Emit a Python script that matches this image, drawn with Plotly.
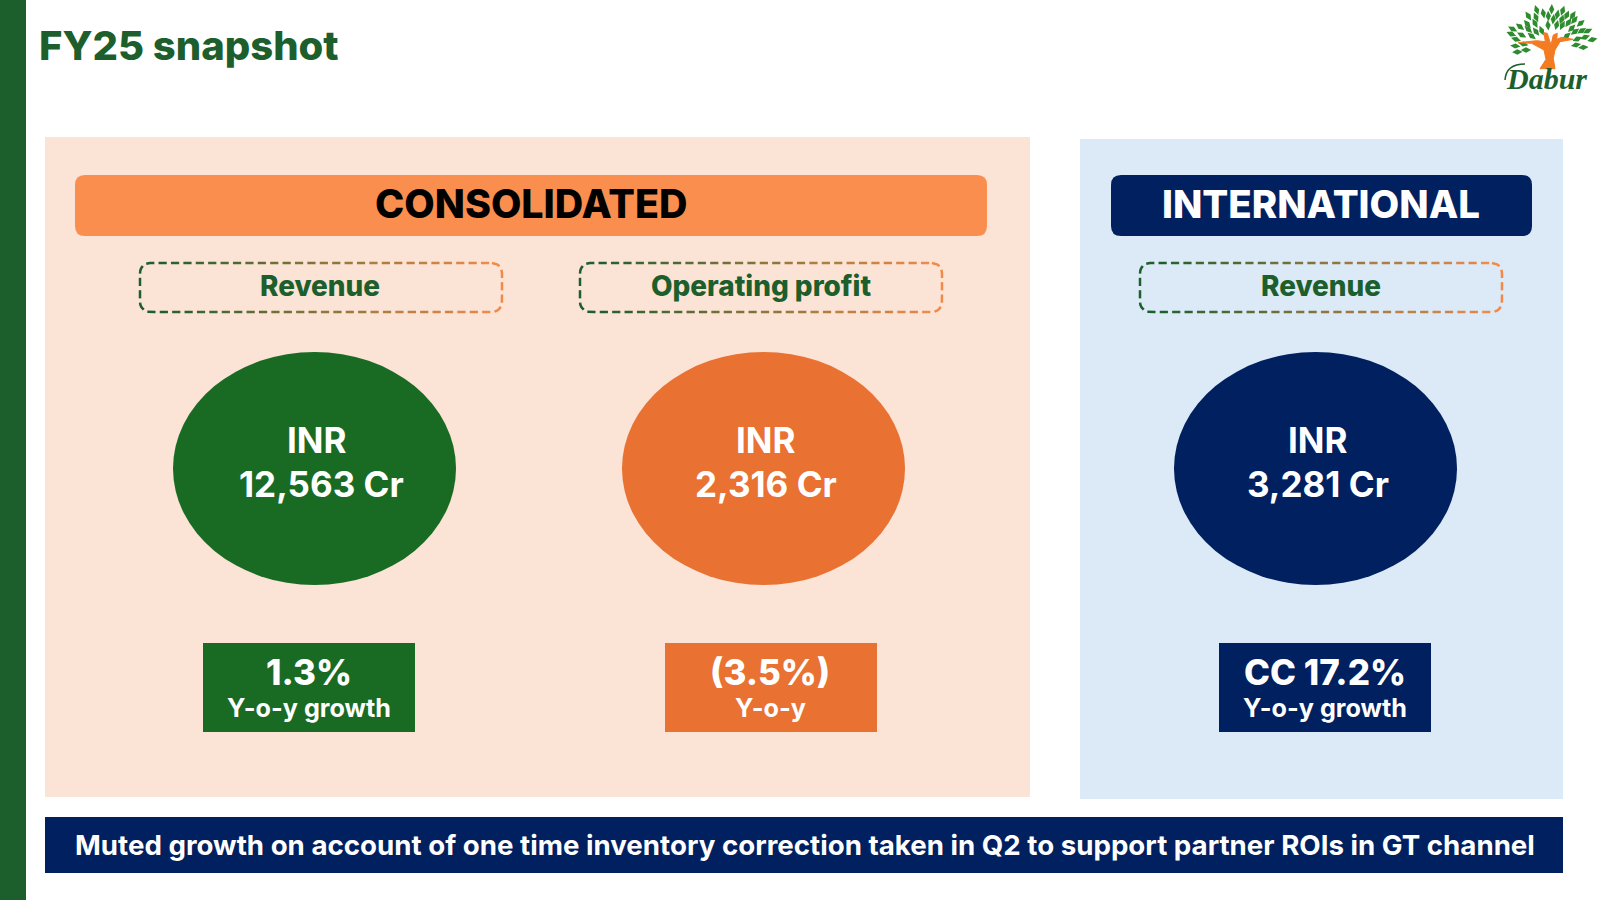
import math
import plotly.graph_objects as go

TITLE = "FY25 snapshot"
HEADERS = ["CONSOLIDATED", "INTERNATIONAL"]
METRICS = ["Revenue", "Operating profit", "Revenue"]
AMOUNTS_CR = ["12,563", "2,316", "3,281"]
CHANGES = ["1.3%", "(3.5%)", "CC 17.2%"]
CHANGE_LABELS = ["Y-o-y growth", "Y-o-y", "Y-o-y growth"]
FOOTER = "Muted growth on account of one time inventory correction taken in Q2 to support partner ROIs in GT channel"

GREEN = "#196B24"; DARK = "#1C5F2C"; ORANGE = "#E97132"; NAVY = "#00205F"
FONT = "Inter"

shapes = []; ann = []; traces = []

def rect(x0, y0, x1, y1, c):
    shapes.append(dict(type="rect", x0=x0, y0=y0, x1=x1, y1=y1, fillcolor=c, line_width=0, layer="below"))

def rr_path(x0, y0, x1, y1, r):
    return (f"M{x0+r},{y0} L{x1-r},{y0} Q{x1},{y0} {x1},{y0+r} L{x1},{y1-r} Q{x1},{y1} {x1-r},{y1} "
            f"L{x0+r},{y1} Q{x0},{y1} {x0},{y1-r} L{x0},{y0+r} Q{x0},{y0} {x0+r},{y0} Z")

def rrect(x0, y0, x1, y1, r, c):
    shapes.append(dict(type="path", path=rr_path(x0, y0, x1, y1, r), fillcolor=c, line_width=0, layer="below"))

def text(x, y, s, size, color, weight=700, anchor="center", family=FONT, style="normal"):
    ann.append(dict(x=x, y=y, text=s, showarrow=False, xanchor=anchor, yanchor="middle",
                    font=dict(family=family, size=size, color=color, weight=weight, style=style), xref="x", yref="y"))

rect(0, 0, 26, 900, DARK)
rect(45, 137, 1030, 797, "#FBE3D6")
rect(1080, 139, 1563, 799, "#DCEAF7")
rect(45, 817, 1563, 873, NAVY)
text(37, 45, TITLE, 40, DARK, weight=800, anchor="left")

rrect(75, 175, 987, 236, 10, "#F98E4E")
rrect(1111, 175, 1532, 236, 10, NAVY)
text(531, 204, HEADERS[0], 39.4, "#000000", weight=800)
text(1321, 204, HEADERS[1], 38.4, "#FFFFFF", weight=800)

BUCKETS = 14
def lerp(t):
    a = (0x1C, 0x5F, 0x2C); b = (0xF0, 0x8A, 0x4A)
    return "rgb(%d,%d,%d)" % tuple(round(a[i] + (b[i]-a[i])*t) for i in range(3))
buckets = [([], []) for _ in range(BUCKETS)]
def emit(seg, x0, x1):
    mx = sum(p[0] for p in seg)/len(seg)
    b = min(BUCKETS-1, int((mx-x0)/(x1-x0)*BUCKETS))
    for p in seg:
        buckets[b][0].append(p[0]); buckets[b][1].append(p[1])
    buckets[b][0].append(None); buckets[b][1].append(None)
def outline(x0, y0, x1, y1, r=10, dash=8.2, gap=4.2):
    pts = []
    n = 6
    def arc(cx, cy, a0):
        for k in range(n+1):
            a = math.radians(a0 + 90*k/n)
            pts.append((cx + r*math.cos(a), cy + r*math.sin(a)))
    arc(x1-r, y0+r, -90); arc(x1-r, y1-r, 0); arc(x0+r, y1-r, 90); arc(x0+r, y0+r, 180)
    pts.append(pts[0])
    on = True; remain = dash; cur = [pts[0]]
    for i in range(len(pts)-1):
        ax, ay = pts[i]; bx, by = pts[i+1]
        L = math.hypot(bx-ax, by-ay); d = 0.0
        while L - d > remain:
            d += remain
            p = (ax+(bx-ax)*d/L, ay+(by-ay)*d/L)
            if on:
                cur.append(p); emit(cur, x0, x1)
            cur = [p]; on = not on
            remain = gap if not on else dash
        remain -= (L-d)
        if on: cur.append((bx, by))
    if on: emit(cur, x0, x1)

LEFT = [140, 580, 1140]
for x0 in LEFT:
    outline(x0, 263, x0+362, 312)
for i, (xs, ys) in enumerate(buckets):
    traces.append(go.Scatter(x=xs, y=ys, mode="lines", line=dict(color=lerp(i/(BUCKETS-1)), width=2.5),
                             hoverinfo="skip", showlegend=False))

for cx, s in zip([320, 761, 1321], METRICS):
    text(cx, 286, s, 27.9, DARK, weight=800)

for x0, c, a, cx1, cx2, in zip([173, 622, 1174], [GREEN, ORANGE, NAVY], AMOUNTS_CR, [317, 766, 1318], [321, 766, 1318]):
    shapes.append(dict(type="circle", x0=x0, x1=x0+283, y0=352, y1=585, fillcolor=c, line_width=0, layer="below"))
    text(cx1, 440, "INR", 35, "#FFFFFF")
    text(cx2, 484, f"{a} Cr", 35, "#FFFFFF")

for x0, c, v, l, cx in zip([203, 665, 1219], [GREEN, ORANGE, NAVY], CHANGES, CHANGE_LABELS, [309, 770, 1325]):
    rect(x0, 643, x0+212, 732, c)
    text(cx, 672, v, 35, "#FFFFFF", weight=800)
    text(cx, 708, l, 25.2, "#FFFFFF")

text(805, 845, FOOTER, 27.7, "#FFFFFF")

# logo, sketched in the coordinates of the reference's logo crop
LOGO_X, LOGO_Y, LOGO_S = 1440, 0, 1/3
def lx(z): return LOGO_X + z*LOGO_S
def ly(z): return LOGO_Y + z*LOGO_S
LEAF_ZX = [290,335,368,265,310,352,380,398,288,325,340,365,385,403,285,262,324,350,367,422,240,265,305,288,395,380,405,425,443,218,214,245,275,228,412,435,457,226,250,258,232,408,430]
LEAF_ZY = [30,28,32,48,40,44,46,46,52,48,58,58,68,60,70,72,76,75,76,70,80,88,92,95,85,108,95,92,93,87,102,105,108,118,117,112,119,138,132,150,156,135,142]
angles = [math.degrees(math.atan2(zx-330, 150-zy)) for zx, zy in zip(LEAF_ZX, LEAF_ZY)]
traces.append(go.Scatter(x=[lx(v) for v in LEAF_ZX], y=[ly(v) for v in LEAF_ZY], mode="markers", hoverinfo="skip", showlegend=False,
    marker=dict(symbol="diamond-tall", size=7.5, color="#2E8B2E", angle=angles, line_width=0)))
TRUNK = [(300,206),(345,206),(340,175),(345,150),(360,125),(400,118),(365,112),(350,118),(352,100),(340,105),(333,135),(322,100),(312,98),(316,125),(290,122),(235,128),(275,130),(312,150),(318,178)]
path = "M" + " L".join(f"{lx(x):.1f},{ly(y):.1f}" for x, y in TRUNK) + " Z"
shapes.append(dict(type="path", layer="above", fillcolor="#F37C22", line=dict(color="#F37C22", width=1), path=path))
shapes.append(dict(type="path", layer="above", line=dict(color=DARK, width=1.5),
    path=f"M{lx(195)},{ly(240)} Q{lx(198)},{ly(192)} {lx(255)},{ly(192)}"))
text(lx(318), ly(234), "Dabur", 30, DARK, weight=700, family="Liberation Serif", style="italic")

fig = go.Figure(traces)
fig.update_layout(width=1600, height=900, margin=dict(l=0, r=0, t=0, b=0), plot_bgcolor="white", paper_bgcolor="white",
                  shapes=shapes, annotations=ann, showlegend=False,
                  xaxis=dict(range=[0, 1600], visible=False, fixedrange=True),
                  yaxis=dict(range=[900, 0], visible=False, fixedrange=True))
fig.write_html("out.html", config=dict(displayModeBar=False), post_script="document.body.style.margin='0';")
